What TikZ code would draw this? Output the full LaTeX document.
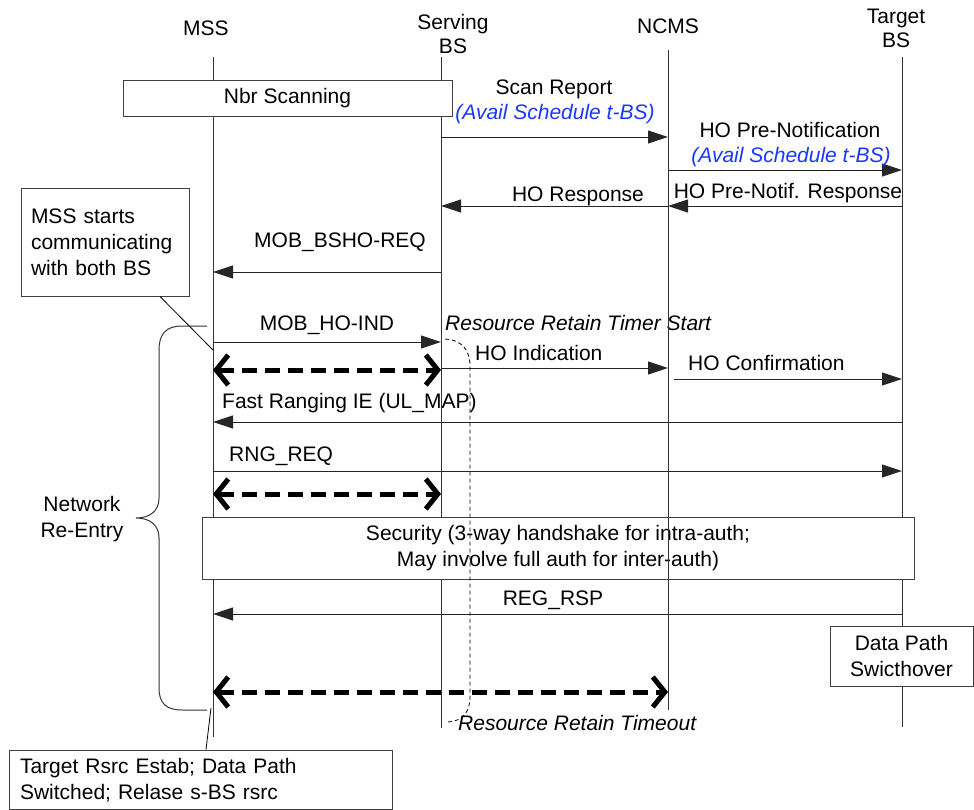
\documentclass[tikz,border=0pt]{standalone}
\usepackage{fontspec}
\setmainfont{Liberation Sans}
\usetikzlibrary{arrows.meta}
\definecolor{availblue}{RGB}{25,55,255}

\begin{document}
\begin{tikzpicture}
  [x=1pt,y=-1pt,font=\fontsize{21}{26}\selectfont,
   lbl/.style={inner sep=0pt,text height=15pt,text depth=5pt},
   life/.style={draw=black!80,line width=1pt},
   msg/.style={draw=black!85,line width=1pt,-{Triangle[length=20pt,width=13pt]}},
   bothway/.style={line width=5pt,dash pattern=on 15pt off 8pt,
     {Straight Barb[length=12pt,width=30pt]}-{Straight Barb[length=12pt,width=30pt]}},
   box/.style={draw=black!75,line width=1pt,fill=white,inner sep=8pt},
   avail/.style={text=availblue,font=\fontsize{21}{26}\selectfont\itshape},
   timer/.style={font=\fontsize{21}{26}\selectfont\itshape},
   title/.style={align=center,font=\fontsize{21}{24}\selectfont}]
  \useasboundingbox (0,0) rectangle (974,809);

  \node[title] (mssT) at (206,28) {MSS};
  \node[title] (sbsT) at (453,34) {Serving\\BS};
  \node[title] (ncmsT) at (668,26) {NCMS};
  \node[title] (tbsT) at (896,28) {Target\\BS};

  \coordinate (ms) at (213,57);  \coordinate (msE) at (213,737);
  \coordinate (sb) at (441,57);  \coordinate (sbE) at (441,728);
  \coordinate (nc) at (668,50);  \coordinate (ncE) at (668,710);
  \coordinate (tb) at (902,57);  \coordinate (tbE) at (902,727);
  \coordinate (hc) at (674,379);
  \coordinate (c1) at (213,350);
  \coordinate (c2) at (211,708);

  \foreach \from/\to in {ms/msE,sb/sbE,tb/tbE}
    \draw[life] (\from) -- (\to);

  \foreach \a/\b/\y in {sb/nc/137,nc/tb/170,tb/nc/206,nc/sb/206,sb/ms/272,
                        ms/sb/342,sb/nc/368,tb/ms/422,ms/tb/471,tb/ms/614}
    \draw[msg] (\a |- 0,\y) -- (\b |- 0,\y);
  \draw[msg] (hc) -- (tb |- hc);

  \node[lbl] (scanR) at (554,89) {Scan Report};
  \node[lbl,avail] (avail1) at (555,114) {(Avail Schedule t-BS)};
  \node[lbl] (preN) at (790,132) {HO Pre-Notification};
  \node[lbl,avail] (avail2) at (791,157) {(Avail Schedule t-BS)};
  \node[lbl] (preR) at (788,193) {HO Pre-Notif. Response};
  \node[lbl] (hoR) at (578,196) {HO Response};
  \node[lbl] (bsho) at (340,242) {MOB\_BSHO-REQ};
  \node[lbl] (hoind) at (327,325) {MOB\_HO-IND};
  \node[lbl,timer,anchor=west] (tstart) at (445,325) {Resource Retain Timer Start};
  \node[lbl,anchor=west] (hoI) at (475,355) {HO Indication};
  \node[lbl,anchor=west] (hoC) at (688,365) {HO Confirmation};
  \node[lbl,anchor=west] (fast) at (222,403) {Fast Ranging IE (UL\_MAP)};
  \node[lbl,anchor=west] (rng) at (229,456) {RNG\_REQ};
  \node[lbl] (reg) at (553,600) {REG\_RSP};
  \node[lbl,timer,anchor=west] (tout) at (458,725) {Resource Retain Timeout};

  \node[box,minimum width=329pt,minimum height=36pt] (scan) at (287.5,98) {Nbr Scanning};
  \node[box,minimum width=168pt,minimum height=108pt,align=left,text width=148pt]
    (both) at (105,242) {MSS starts\\communicating\\with both BS};
  \node[box,minimum width=712pt,minimum height=55pt,align=center] (sec) at (558,548.5)
    {Security (3-way handshake for intra-auth;\\May involve full auth for inter-auth)};
  \node[box,minimum width=143pt,minimum height=60pt,align=center] (dps) at (901.5,656)
    {Data Path\\Swicthover};
  \node[box,minimum width=383pt,minimum height=56pt,align=left,text width=361pt]
    (tre) at (200.5,780) {Target Rsrc Estab; Data Path\\Switched; Relase s-BS rsrc};
  \node[align=center] (nre) at (82,519) {Network\\Re-Entry};

  \draw[life] (nc) -- (ncE);

  \draw[black,line width=0.8pt] (both.south -| 160,0) -- (c1);
  \draw[black,line width=0.8pt] (tre.north -| 206,0) -- (c2);

  \draw[life] (207,326) -- (182,326) .. controls (166,326) and (159,334) .. (159,350)
    -- (159,498) .. controls (159,511) and (150,518) .. (136,518)
    .. controls (150,518) and (159,525) .. (159,538)
    -- (159,688) .. controls (159,703) and (166,710) .. (182,710) -- (207,710);

  \draw[black,line width=0.8pt,dash pattern=on 4pt off 3pt]
    (445,339) .. controls (462,340) and (470,350) .. (470,366) -- (470,696)
    .. controls (470,712) and (463,721) .. (448,722);

  \foreach \a/\b/\y in {ms/sb/370,ms/sb/494,ms/nc/692}
    \draw[bothway] (\a |- 0,\y) -- (\b |- 0,\y);
\end{tikzpicture}
\end{document}
